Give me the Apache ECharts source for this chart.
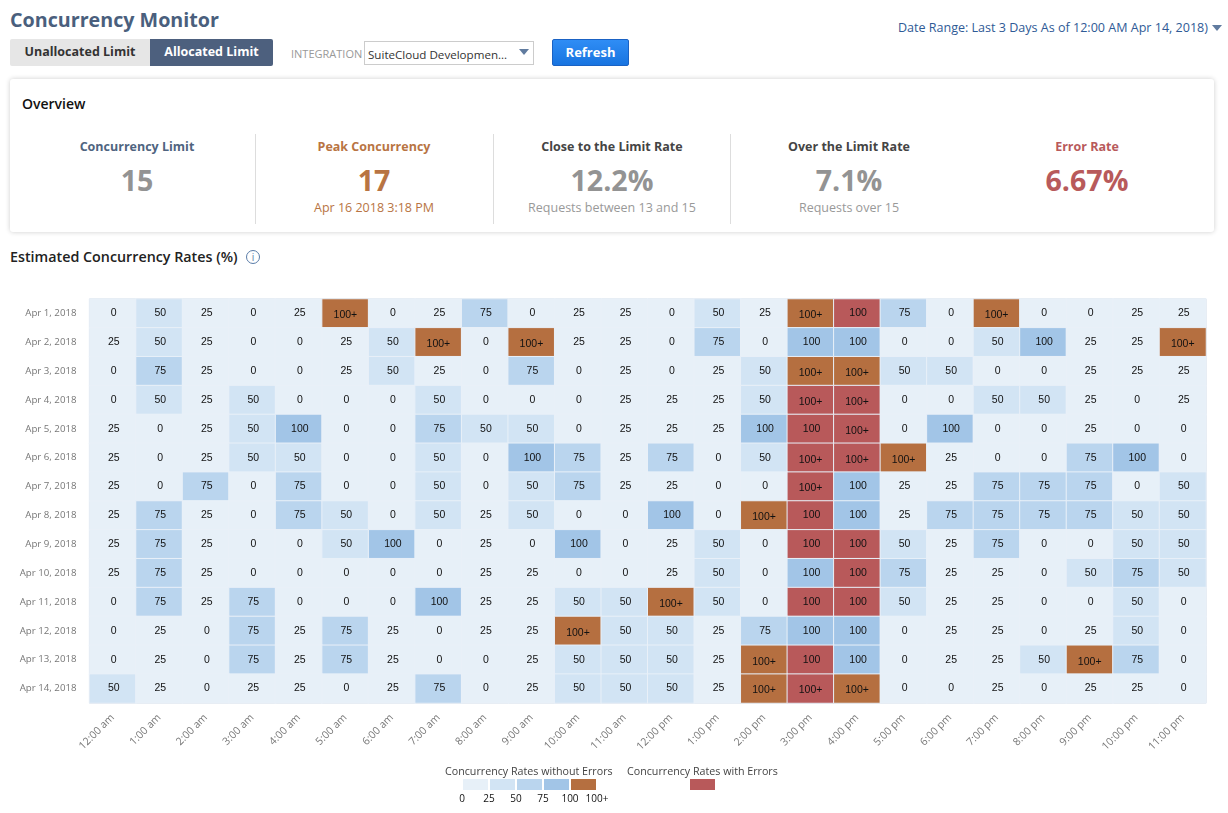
<!DOCTYPE html>
<html>
<head>
<meta charset="utf-8">
<title>Concurrency Monitor</title>
<script src="https://cdn.jsdelivr.net/npm/echarts@6/dist/echarts.min.js"></script>
<style>
html,body{margin:0;padding:0;background:#fff;font-family:"Open Sans",sans-serif;}
#page{position:relative;width:1228px;height:813px;overflow:hidden;}
#page>div,.abs{position:absolute;white-space:nowrap;}
.title{left:10px;top:6px;font-size:19.7px;font-weight:700;color:#4a5f7d;line-height:28px;}
.tabs{left:10px;top:39px;width:263px;height:27px;border-radius:2px;overflow:hidden;font-size:12.5px;font-weight:700;line-height:25px;text-align:center;}
.tabs span{position:absolute;top:0;height:27px;}
.tab-off{left:0;width:140px;background:#e6e6e6;color:#333;}
.tab-on{left:140px;width:123px;background:#4d607e;color:#fff;}
.intlabel{left:291px;top:46px;font-size:11px;color:#999;line-height:16px;}
.select{left:364px;top:41px;width:168px;height:22px;border:1px solid #ccc;font-size:11.6px;color:#333;line-height:26px;text-indent:3px;}
.caret{width:0;height:0;border-left:5px solid transparent;border-right:5px solid transparent;border-top:6px solid #607b9f;}
.refresh{left:552px;top:39px;width:75px;height:25px;border:1px solid #1a62c4;border-radius:2px;background:linear-gradient(#2f8df5,#1874e0);color:#fff;font-size:13px;font-weight:700;line-height:25px;text-align:center;}
.range{right:20px;top:19px;font-size:12.55px;color:#2f5a96;line-height:18px;}
.card{left:10px;top:79px;width:1204px;height:153px;background:#fff;border-radius:3px;box-shadow:0 0 5px rgba(0,0,0,.2);}
.overview{left:22px;top:95px;font-size:14px;font-weight:600;color:#111;line-height:18px;}
.sep{top:134px;width:1px;height:90px;background:#ddd;}
.col{width:236px;text-align:center;}
.lab{font-size:12.5px;font-weight:700;line-height:18px;top:138px;}
.big{font-size:28.6px;font-weight:700;line-height:40px;top:160px;}
.sub{font-size:12.5px;line-height:18px;top:199px;}
.heading{left:10px;top:247px;font-size:14.3px;font-weight:600;color:#222;line-height:20px;}
.info{left:246px;top:250px;width:12px;height:12px;border:1px solid #5a7ca8;border-radius:50%;font-size:10px;line-height:12px;text-align:center;color:#5a7ca8;}
#heatmap{left:0;top:280px;width:1228px;height:533px;}
</style>
</head>
<body>
<div id="page">
  <div class="title">Concurrency Monitor</div>
  <div class="tabs"><span class="tab-off">Unallocated Limit</span><span class="tab-on">Allocated Limit</span></div>
  <div class="intlabel">INTEGRATION</div>
  <div class="select">SuiteCloud Developmen...</div>
  <div class="caret" style="left:519px;top:49px"></div>
  <div class="refresh">Refresh</div>
  <div class="range">Date Range: Last 3 Days As of 12:00 AM Apr 14, 2018)</div>
  <div class="caret" style="left:1212px;top:25px"></div>

  <div class="card"></div>
  <div class="overview">Overview</div>
  <div class="sep" style="left:255px"></div>
  <div class="sep" style="left:493px"></div>
  <div class="sep" style="left:730px"></div>

  <div class="col lab" style="left:19px;color:#4f6480">Concurrency Limit</div>
  <div class="col big" style="left:19px;color:#939393">15</div>

  <div class="col lab" style="left:256px;color:#b87443">Peak Concurrency</div>
  <div class="col big" style="left:256px;color:#b87443">17</div>
  <div class="col sub" style="left:256px;color:#b87443">Apr 16 2018 3:18 PM</div>

  <div class="col lab" style="left:494px;color:#444">Close to the Limit Rate</div>
  <div class="col big" style="left:494px;color:#939393">12.2%</div>
  <div class="col sub" style="left:494px;color:#999">Requests between 13 and 15</div>

  <div class="col lab" style="left:731px;color:#444">Over the Limit Rate</div>
  <div class="col big" style="left:731px;color:#939393">7.1%</div>
  <div class="col sub" style="left:731px;color:#999">Requests over 15</div>

  <div class="col lab" style="left:969px;color:#b85a5b">Error Rate</div>
  <div class="col big" style="left:969px;color:#b85a5b">6.67%</div>

  <div class="heading">Estimated Concurrency Rates (%)</div>
  <div class="info">i</div>
  <div id="heatmap"></div>
</div>
<script>
var hours = ['12:00 am','1:00 am','2:00 am','3:00 am','4:00 am','5:00 am','6:00 am','7:00 am','8:00 am','9:00 am','10:00 am','11:00 am',
	'12:00 pm','1:00 pm','2:00 pm','3:00 pm','4:00 pm','5:00 pm','6:00 pm','7:00 pm','8:00 pm','9:00 pm','10:00 pm','11:00 pm'];
var days = ['Apr 1, 2018','Apr 2, 2018','Apr 3, 2018','Apr 4, 2018','Apr 5, 2018','Apr 6, 2018','Apr 7, 2018',
	'Apr 8, 2018','Apr 9, 2018','Apr 10, 2018','Apr 11, 2018','Apr 12, 2018','Apr 13, 2018','Apr 14, 2018'];

// one row per day, '100+' is over the limit
var apr1  = [0,50,25,0,25,'100+',0,25,75,0,25,25,0,50,25,'100+',100,75,0,'100+',0,0,25,25];
var apr2  = [25,50,25,0,0,25,50,'100+',0,'100+',25,25,0,75,0,100,100,0,0,50,100,25,25,'100+'];
var apr3  = [0,75,25,0,0,25,50,25,0,75,0,25,0,25,50,'100+','100+',50,50,0,0,25,25,25];
var apr4  = [0,50,25,50,0,0,0,50,0,0,0,25,25,25,50,'100+','100+',0,0,50,50,25,0,25];
var apr5  = [25,0,25,50,100,0,0,75,50,50,0,25,25,25,100,100,'100+',0,100,0,0,25,0,0];
var apr6  = [25,0,25,50,50,0,0,50,0,100,75,25,75,0,50,'100+','100+','100+',25,0,0,75,100,0];
var apr7  = [25,0,75,0,75,0,0,50,0,50,75,25,25,0,0,'100+',100,25,25,75,75,75,0,50];
var apr8  = [25,75,25,0,75,50,0,50,25,50,0,0,100,0,'100+',100,100,25,75,75,75,75,50,50];
var apr9  = [25,75,25,0,0,50,100,0,25,0,100,0,25,50,0,100,100,50,25,75,0,0,50,50];
var apr10 = [25,75,25,0,0,0,0,0,25,25,0,0,25,50,0,100,100,75,25,25,0,50,75,50];
var apr11 = [0,75,25,75,0,0,0,100,25,25,50,50,'100+',50,0,100,100,50,25,25,0,0,50,0];
var apr12 = [0,25,0,75,25,75,25,0,25,25,'100+',50,50,25,75,100,100,0,25,25,0,25,50,0];
var apr13 = [0,25,0,75,25,75,25,0,0,25,50,50,50,25,'100+',100,100,0,25,25,50,'100+',75,0];
var apr14 = [50,25,0,25,25,0,25,75,0,25,50,50,50,25,'100+','100+','100+',0,0,25,0,25,25,0];
var rates = [apr1,apr2,apr3,apr4,apr5,apr6,apr7,apr8,apr9,apr10,apr11,apr12,apr13,apr14];

// cells that also had errors, as [day index, hour index]
var errorCells = [[0,16],[3,15],[3,16],[4,15],[4,16],[5,15],[5,16],[6,15],[7,15],[8,15],[8,16],[9,16],[10,15],[10,16],[12,15],[13,15]];

var legendValues = ['0','25','50','75','100','100+'];
var legendColors = ['#e7f0f8','#d2e4f4','#bad5ee','#a2c5e7','#b56f40'];
var errorColor = '#b8595a';

function isError(d,h){
	return errorCells.some(function(c){return c[0]==d && c[1]==h;});
}

var cells = [];
rates.forEach(function(row,d){
	row.forEach(function(rate,h){
		var level = rate==='100+' ? 125 : rate;
		if(isError(d,h)) level = 200;
		cells.push({
			value:[h,d,level,rate],
			label:{offset:rate==='100+' ? [0,2] : [1,0]}
		});
	});
});

var legendFont = '10.7px "Open Sans"';
var legendGraphics = [
	{type:'text',left:445,top:486,style:{text:'Concurrency Rates without Errors',font:legendFont,fill:'#444'}},
	{type:'text',left:627,top:486,style:{text:'Concurrency Rates with Errors',font:legendFont,fill:'#444'}},
	{type:'rect',left:690,top:499,shape:{width:25,height:11},style:{fill:errorColor}}
];
legendColors.forEach(function(color,i){
	legendGraphics.push({type:'rect',left:463+27*i,top:499,shape:{width:25,height:11},style:{fill:color}});
});
legendValues.forEach(function(text,i){
	legendGraphics.push({type:'text',x:462+27*i,y:519,style:{text:text,font:'10px "Open Sans"',fill:'#111',align:'center',verticalAlign:'middle'}});
});

var chart = echarts.init(document.getElementById('heatmap'));
var option = {
	animation:false,
	grid:{
		show:true,
		left:89.5,
		right:22,
		top:19,
		bottom:110,
		backgroundColor:'#e7f0f8',
		borderColor:'#c8ccd4',
		borderWidth:1
	},
	tooltip:{show:false},
	xAxis:{
		type:'category',
		data:hours,
		splitArea:{show:false},
		axisLine:{show:false},
		axisTick:{show:false},
		axisLabel:{
			interval:0,
			rotate:45,
			margin:13,
			color:'#777',
			fontFamily:'Open Sans',
			fontSize:10.5
		}
	},
	yAxis:{
		type:'category',
		data:days,
		inverse:true,
		splitArea:{show:false},
		axisLine:{show:false},
		axisTick:{show:false},
		axisLabel:{
			interval:0,
			margin:13,
			color:'#777',
			fontFamily:'Open Sans',
			fontSize:9.7
		}
	},
	visualMap:{
		show:false,
		type:'piecewise',
		dimension:2,
		seriesIndex:0,
		pieces:[
			{value:0,color:legendColors[0]},
			{value:25,color:legendColors[0]},
			{value:50,color:legendColors[1]},
			{value:75,color:legendColors[2]},
			{value:100,color:legendColors[3]},
			{value:125,color:legendColors[4]},
			{value:200,color:errorColor}
		]
	},
	graphic:legendGraphics,
	series:[{
		type:'heatmap',
		data:cells,
		encode:{x:0,y:1},
		itemStyle:{borderColor:'#e9f0f8',borderWidth:1},
		emphasis:{disabled:true},
		label:{
			show:true,
			fontFamily:'Liberation Sans',
			fontSize:10.5,
			color:'#111',
			formatter:function(p){return p.value[3];}
		}
	}]
};
chart.setOption(option);
</script>
</body>
</html>
